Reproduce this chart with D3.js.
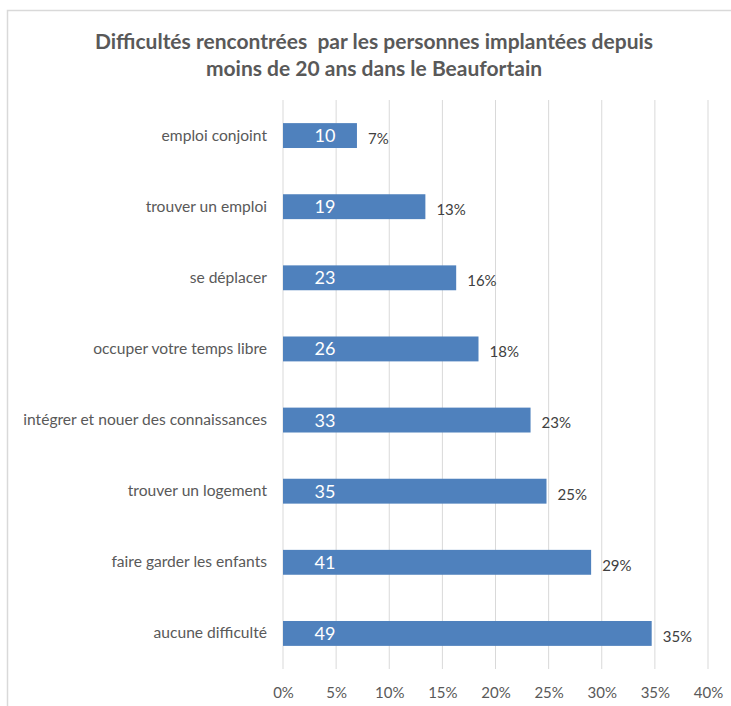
<!DOCTYPE html>
<html>
<head>
<meta charset="utf-8">
<script src="https://cdn.jsdelivr.net/npm/d3@7"></script>
<style>
  body { margin: 0; background: #fff; }
  text { font-family: Lato, "Open Sans", sans-serif; }
</style>
</head>
<body>
<div id="chart"></div>
<script>
// data
var categories = ["emploi conjoint", "trouver un emploi", "se déplacer", "occuper votre temps libre",
  "intégrer et nouer des connaissances", "trouver un logement", "faire garder les enfants", "aucune difficulté"];
var counts = [10, 19, 23, 26, 33, 35, 41, 49];
var shares = [6.96, 13.4, 16.3, 18.4, 23.3, 24.8, 29.0, 34.7];
var shareLabels = ["7%", "13%", "16%", "18%", "23%", "25%", "29%", "35%"];
var xTicks = [0, 5, 10, 15, 20, 25, 30, 35, 40];

var svgWidth = 731;
var svgHeight = 706;

var margin = { top: 100, right: 23, bottom: 37, left: 283 };
var width = svgWidth - margin.left - margin.right;
var height = svgHeight - margin.top - margin.bottom;

var svg = d3.select("#chart")
  .append("svg")
  .attr("width", svgWidth)
  .attr("height", svgHeight);

svg.append("rect")
  .attr("width", svgWidth)
  .attr("height", svgHeight)
  .attr("fill", "#fff");

// chart frame (only top and left visible)
svg.append("path")
  .attr("d", "M7.5,706 V10.5 H731")
  .attr("fill", "none")
  .attr("stroke", "#d9d9d9")
  .attr("stroke-width", 1.5);

// title
var title = svg.append("text")
  .attr("text-anchor", "middle")
  .attr("fill", "#595959")
  .attr("font-size", "21px")
  .attr("font-weight", "bold")
  .style("white-space", "pre");
title.append("tspan").attr("x", 374).attr("y", 49)
  .text("Difficultés rencontrées  par les personnes implantées depuis");
title.append("tspan").attr("x", 374).attr("y", 76)
  .text("moins de 20 ans dans le Beaufortain");

var chartGroup = svg.append("g")
  .attr("transform", `translate(${margin.left}, ${margin.top})`);

var xScale = d3.scaleLinear()
  .domain([0, 40])
  .range([0, width]);

var yScale = d3.scaleBand()
  .domain(categories)
  .range([0, height])
  .paddingInner(0.65)
  .paddingOuter(0.325);

// vertical gridlines
chartGroup.selectAll(".grid")
  .data(xTicks)
  .enter()
  .append("line")
  .attr("x1", d => xScale(d))
  .attr("x2", d => xScale(d))
  .attr("y1", 0)
  .attr("y2", height)
  .attr("stroke", "#d9d9d9")
  .attr("stroke-width", 1);

// x axis
var bottomAxis = d3.axisBottom(xScale)
  .tickValues(xTicks)
  .tickSize(0)
  .tickPadding(18)
  .tickFormat(d => d + "%");

var xAxis = chartGroup.append("g")
  .attr("transform", `translate(0, ${height})`)
  .call(bottomAxis);
xAxis.select(".domain").remove();
xAxis.selectAll("text")
  .attr("font-size", "15px")
  .attr("fill", "#595959")
  .attr("font-family", "Lato, sans-serif");

// y axis labels
var leftAxis = d3.axisLeft(yScale)
  .tickSize(0)
  .tickPadding(16);
var yAxis = chartGroup.append("g").call(leftAxis);
yAxis.select(".domain").remove();
yAxis.selectAll("text")
  .attr("font-size", "15.6px")
  .attr("fill", "#595959")
  .attr("font-family", "Lato, sans-serif");

// bars
var rows = categories.map((c, i) => ({ cat: c, count: counts[i], share: shares[i], label: shareLabels[i] }));

chartGroup.selectAll("rect.bar")
  .data(rows)
  .enter()
  .append("rect")
  .attr("class", "bar")
  .attr("x", xScale(0))
  .attr("y", d => yScale(d.cat))
  .attr("width", d => xScale(d.share) - xScale(0))
  .attr("height", yScale.bandwidth())
  .attr("fill", "#4f81bd");

// counts inside bars
chartGroup.selectAll("text.count")
  .data(rows)
  .enter()
  .append("text")
  .attr("class", "count")
  .attr("x", 42)
  .attr("y", d => yScale(d.cat) + yScale.bandwidth() / 2)
  .attr("dy", "0.36em")
  .attr("text-anchor", "middle")
  .attr("font-size", "18px")
  .attr("fill", "#fff")
  .text(d => d.count);

// percentages after bars
chartGroup.selectAll("text.share")
  .data(rows)
  .enter()
  .append("text")
  .attr("class", "share")
  .attr("x", d => xScale(d.share) + 11)
  .attr("y", d => yScale(d.cat) + yScale.bandwidth() / 2 + 3)
  .attr("dy", "0.36em")
  .attr("font-size", "15px")
  .attr("fill", "#404040")
  .text(d => d.label);
</script>
</body>
</html>
